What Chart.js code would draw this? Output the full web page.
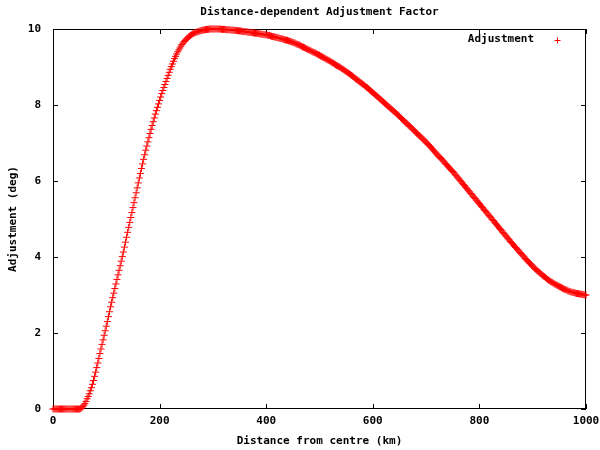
<!DOCTYPE html>
<html>
<head>
<meta charset="utf-8">
<title>Distance-dependent Adjustment Factor</title>
<script src="https://cdn.jsdelivr.net/npm/chart.js@4.4.0/dist/chart.umd.min.js"></script>
<style>
    body { margin: 0; background: #fff; }
    #wrap { width: 600px; height: 450px; }
</style>
</head>
<body>
<div id="wrap"><canvas id="adjChart" width="600" height="450"></canvas></div>
<script>
// Distance from centre (km), sampled every 2 km
const distanceKm = [
    0, 2, 4, 6, 8, 10, 12, 14, 16, 18,
    20, 22, 24, 26, 28, 30, 32, 34, 36, 38,
    40, 42, 44, 46, 48, 50, 52, 54, 56, 58,
    60, 62, 64, 66, 68, 70, 72, 74, 76, 78,
    80, 82, 84, 86, 88, 90, 92, 94, 96, 98,
    100, 102, 104, 106, 108, 110, 112, 114, 116, 118,
    120, 122, 124, 126, 128, 130, 132, 134, 136, 138,
    140, 142, 144, 146, 148, 150, 152, 154, 156, 158,
    160, 162, 164, 166, 168, 170, 172, 174, 176, 178,
    180, 182, 184, 186, 188, 190, 192, 194, 196, 198,
    200, 202, 204, 206, 208, 210, 212, 214, 216, 218,
    220, 222, 224, 226, 228, 230, 232, 234, 236, 238,
    240, 242, 244, 246, 248, 250, 252, 254, 256, 258,
    260, 262, 264, 266, 268, 270, 272, 274, 276, 278,
    280, 282, 284, 286, 288, 290, 292, 294, 296, 298,
    300, 302, 304, 306, 308, 310, 312, 314, 316, 318,
    320, 322, 324, 326, 328, 330, 332, 334, 336, 338,
    340, 342, 344, 346, 348, 350, 352, 354, 356, 358,
    360, 362, 364, 366, 368, 370, 372, 374, 376, 378,
    380, 382, 384, 386, 388, 390, 392, 394, 396, 398,
    400, 402, 404, 406, 408, 410, 412, 414, 416, 418,
    420, 422, 424, 426, 428, 430, 432, 434, 436, 438,
    440, 442, 444, 446, 448, 450, 452, 454, 456, 458,
    460, 462, 464, 466, 468, 470, 472, 474, 476, 478,
    480, 482, 484, 486, 488, 490, 492, 494, 496, 498,
    500, 502, 504, 506, 508, 510, 512, 514, 516, 518,
    520, 522, 524, 526, 528, 530, 532, 534, 536, 538,
    540, 542, 544, 546, 548, 550, 552, 554, 556, 558,
    560, 562, 564, 566, 568, 570, 572, 574, 576, 578,
    580, 582, 584, 586, 588, 590, 592, 594, 596, 598,
    600, 602, 604, 606, 608, 610, 612, 614, 616, 618,
    620, 622, 624, 626, 628, 630, 632, 634, 636, 638,
    640, 642, 644, 646, 648, 650, 652, 654, 656, 658,
    660, 662, 664, 666, 668, 670, 672, 674, 676, 678,
    680, 682, 684, 686, 688, 690, 692, 694, 696, 698,
    700, 702, 704, 706, 708, 710, 712, 714, 716, 718,
    720, 722, 724, 726, 728, 730, 732, 734, 736, 738,
    740, 742, 744, 746, 748, 750, 752, 754, 756, 758,
    760, 762, 764, 766, 768, 770, 772, 774, 776, 778,
    780, 782, 784, 786, 788, 790, 792, 794, 796, 798,
    800, 802, 804, 806, 808, 810, 812, 814, 816, 818,
    820, 822, 824, 826, 828, 830, 832, 834, 836, 838,
    840, 842, 844, 846, 848, 850, 852, 854, 856, 858,
    860, 862, 864, 866, 868, 870, 872, 874, 876, 878,
    880, 882, 884, 886, 888, 890, 892, 894, 896, 898,
    900, 902, 904, 906, 908, 910, 912, 914, 916, 918,
    920, 922, 924, 926, 928, 930, 932, 934, 936, 938,
    940, 942, 944, 946, 948, 950, 952, 954, 956, 958,
    960, 962, 964, 966, 968, 970, 972, 974, 976, 978,
    980, 982, 984, 986, 988, 990, 992, 994, 996, 998,
    1000
];

// Adjustment (deg), one value per distance above
const adjustmentDeg = [
    0, 0, 0, 0, 0, 0, 0, 0, 0, 0,
    0, 0, 0, 0, 0, 0, 0, 0, 0, 0,
    0, 0, 0, 0, 0, 0, 0.01, 0.03, 0.06, 0.1,
    0.14, 0.2, 0.27, 0.33, 0.4, 0.48, 0.56, 0.65, 0.75, 0.86,
    0.97, 1.09, 1.21, 1.33, 1.46, 1.58, 1.7, 1.82, 1.94, 2.06,
    2.18, 2.3, 2.43, 2.56, 2.69, 2.81, 2.93, 3.05, 3.17, 3.29,
    3.41, 3.53, 3.65, 3.77, 3.89, 4.01, 4.13, 4.26, 4.39, 4.52,
    4.65, 4.78, 4.91, 5.04, 5.17, 5.3, 5.43, 5.56, 5.69, 5.82,
    5.95, 6.08, 6.2, 6.33, 6.45, 6.57, 6.69, 6.81, 6.92, 7.03,
    7.14, 7.25, 7.36, 7.46, 7.56, 7.66, 7.76, 7.85, 7.94, 8.03,
    8.12, 8.21, 8.3, 8.38, 8.46, 8.54, 8.62, 8.7, 8.78, 8.86,
    8.94, 9.01, 9.08, 9.15, 9.22, 9.28, 9.34, 9.4, 9.45, 9.5,
    9.55, 9.59, 9.63, 9.67, 9.7, 9.73, 9.76, 9.79, 9.81, 9.83,
    9.85, 9.87, 9.89, 9.9, 9.91, 9.92, 9.93, 9.94, 9.95, 9.96,
    9.97, 9.97, 9.98, 9.98, 9.99, 9.99, 9.99, 10, 10, 10,
    10, 10, 10, 10, 10, 10, 10, 10, 9.99, 9.99,
    9.99, 9.99, 9.99, 9.98, 9.98, 9.98, 9.98, 9.97, 9.97, 9.97,
    9.97, 9.96, 9.96, 9.96, 9.95, 9.95, 9.95, 9.94, 9.94, 9.93,
    9.93, 9.93, 9.92, 9.92, 9.91, 9.91, 9.91, 9.9, 9.9, 9.89,
    9.89, 9.89, 9.88, 9.88, 9.87, 9.87, 9.86, 9.86, 9.85, 9.85,
    9.85, 9.84, 9.83, 9.83, 9.82, 9.81, 9.8, 9.8, 9.79, 9.78,
    9.78, 9.77, 9.76, 9.75, 9.75, 9.74, 9.73, 9.72, 9.71, 9.71,
    9.7, 9.69, 9.68, 9.67, 9.66, 9.65, 9.64, 9.63, 9.61, 9.6,
    9.59, 9.58, 9.56, 9.55, 9.53, 9.52, 9.51, 9.49, 9.48, 9.46,
    9.45, 9.44, 9.42, 9.41, 9.39, 9.38, 9.37, 9.35, 9.34, 9.32,
    9.31, 9.29, 9.28, 9.26, 9.25, 9.23, 9.21, 9.2, 9.18, 9.17,
    9.15, 9.13, 9.11, 9.1, 9.08, 9.06, 9.04, 9.03, 9.01, 9.0,
    8.98, 8.96, 8.94, 8.92, 8.9, 8.88, 8.86, 8.84, 8.82, 8.8,
    8.78, 8.76, 8.74, 8.71, 8.69, 8.67, 8.65, 8.63, 8.6, 8.58,
    8.56, 8.54, 8.52, 8.49, 8.47, 8.45, 8.43, 8.4, 8.38, 8.35,
    8.33, 8.3, 8.28, 8.25, 8.23, 8.2, 8.18, 8.15, 8.13, 8.1,
    8.08, 8.05, 8.03, 8.0, 7.98, 7.95, 7.93, 7.9, 7.88, 7.85,
    7.83, 7.8, 7.78, 7.75, 7.73, 7.7, 7.67, 7.64, 7.62, 7.59,
    7.56, 7.53, 7.51, 7.48, 7.46, 7.43, 7.4, 7.37, 7.35, 7.32,
    7.29, 7.26, 7.24, 7.21, 7.19, 7.16, 7.13, 7.1, 7.08, 7.05,
    7.02, 6.99, 6.96, 6.93, 6.9, 6.87, 6.84, 6.81, 6.77, 6.74,
    6.71, 6.68, 6.65, 6.62, 6.59, 6.56, 6.53, 6.5, 6.46, 6.43,
    6.4, 6.37, 6.34, 6.31, 6.28, 6.25, 6.22, 6.18, 6.15, 6.11,
    6.08, 6.05, 6.01, 5.98, 5.94, 5.91, 5.88, 5.84, 5.81, 5.77,
    5.74, 5.71, 5.67, 5.64, 5.6, 5.57, 5.54, 5.5, 5.47, 5.43,
    5.4, 5.37, 5.33, 5.3, 5.26, 5.23, 5.2, 5.16, 5.13, 5.09,
    5.06, 5.03, 4.99, 4.96, 4.92, 4.89, 4.86, 4.82, 4.79, 4.75,
    4.72, 4.69, 4.65, 4.62, 4.58, 4.55, 4.52, 4.48, 4.45, 4.41,
    4.38, 4.35, 4.32, 4.28, 4.25, 4.22, 4.19, 4.16, 4.12, 4.09,
    4.06, 4.03, 4.0, 3.96, 3.93, 3.9, 3.87, 3.84, 3.82, 3.79,
    3.76, 3.73, 3.7, 3.67, 3.65, 3.62, 3.6, 3.57, 3.55, 3.52,
    3.5, 3.48, 3.46, 3.43, 3.41, 3.39, 3.37, 3.35, 3.34, 3.32,
    3.3, 3.28, 3.27, 3.25, 3.24, 3.22, 3.21, 3.19, 3.18, 3.16,
    3.15, 3.14, 3.13, 3.11, 3.1, 3.09, 3.08, 3.07, 3.07, 3.06,
    3.05, 3.04, 3.04, 3.03, 3.03, 3.02, 3.02, 3.01, 3.01, 3.0,
    3.0
];

const xTicks = [0, 200, 400, 600, 800, 1000];
const yTicks = [0, 2, 4, 6, 8, 10];

const seriesName = 'Adjustment';
const seriesColor = '#ff0000';
const monoFont = "'DejaVu Sans Mono', 'Liberation Mono', monospace";

// gnuplot-style frame: full border, inward ticks on all four sides, legend inside
const gnuplotFrame = {
    id: 'gnuplotFrame',
    beforeDatasetsDraw(chart) {
        const { ctx, chartArea: a, scales: { x, y } } = chart;
        const tickLen = 5;
        ctx.save();
        ctx.strokeStyle = '#000';
        ctx.lineWidth = 1;
        ctx.strokeRect(a.left + 0.5, a.top + 0.5, a.right - a.left - 1, a.bottom - a.top - 1);
        ctx.beginPath();
        xTicks.forEach(v => {
            const px = Math.round(x.getPixelForValue(v)) + 0.5;
            ctx.moveTo(px, a.bottom);
            ctx.lineTo(px, a.bottom - tickLen);
            ctx.moveTo(px, a.top);
            ctx.lineTo(px, a.top + tickLen);
        });
        yTicks.forEach(v => {
            const py = Math.round(y.getPixelForValue(v)) + 0.5;
            ctx.moveTo(a.left, py);
            ctx.lineTo(a.left + tickLen, py);
            ctx.moveTo(a.right, py);
            ctx.lineTo(a.right - tickLen, py);
        });
        ctx.stroke();
        ctx.restore();
    },
    afterDatasetsDraw(chart) {
        const { ctx, chartArea: a } = chart;
        const ly = a.top + 10.5;
        ctx.save();
        ctx.font = 'bold 11px ' + monoFont;
        ctx.fillStyle = '#000';
        ctx.textAlign = 'right';
        ctx.textBaseline = 'middle';
        ctx.fillText(seriesName, a.right - 52, ly);
        // legend marker
        const mx = Math.round(a.right - 29) + 0.5;
        const my = Math.round(ly) + 0.5;
        ctx.strokeStyle = seriesColor;
        ctx.lineWidth = 1;
        ctx.beginPath();
        ctx.moveTo(mx - 3, my);
        ctx.lineTo(mx + 3, my);
        ctx.moveTo(mx, my - 3);
        ctx.lineTo(mx, my + 3);
        ctx.stroke();
        ctx.restore();
    }
};

document.addEventListener('DOMContentLoaded', function() {
    const ctx = document.getElementById('adjChart').getContext('2d');

    const points = distanceKm.map((d, i) => ({ x: d, y: adjustmentDeg[i] }));

    new Chart(ctx, {
        type: 'scatter',
        data: {
            datasets: [{
                label: seriesName,
                data: points,
                pointStyle: 'cross',
                pointRadius: 3.5,
                pointHoverRadius: 3.5,
                borderColor: seriesColor,
                backgroundColor: seriesColor,
                pointBorderWidth: 1,
                showLine: false,
                clip: false
            }]
        },
        options: {
            responsive: false,
            animation: false,
            layout: {
                padding: { left: 0, right: 14, top: 0, bottom: 0 }
            },
            plugins: {
                legend: { display: false },
                tooltip: { enabled: false },
                title: {
                    display: true,
                    fullSize: false,
                    text: 'Distance-dependent Adjustment Factor',
                    color: '#000',
                    font: { family: monoFont, size: 11, weight: 'bold', lineHeight: 1 },
                    padding: { top: 7, bottom: 11 }
                }
            },
            scales: {
                x: {
                    type: 'linear',
                    min: 0,
                    max: 1000,
                    grid: { display: false, drawTicks: false },
                    border: { display: false },
                    afterBuildTicks: s => { s.ticks = xTicks.map(v => ({ value: v })); },
                    afterFit: s => {
                        s.height = 41;
                        s.paddingLeft = 0;
                        s.paddingRight = 0;
                    },
                    ticks: {
                        color: '#000',
                        padding: 6.5,
                        maxRotation: 0,
                        font: { family: monoFont, size: 11, weight: 'bold', lineHeight: 1 },
                        callback: v => String(v)
                    },
                    title: {
                        display: true,
                        text: 'Distance from centre (km)',
                        color: '#000',
                        font: { family: monoFont, size: 11, weight: 'bold', lineHeight: 1 },
                        padding: { top: 0, bottom: 3.5 }
                    }
                },
                y: {
                    min: 0,
                    max: 10,
                    grid: { display: false, drawTicks: false },
                    border: { display: false },
                    afterBuildTicks: s => { s.ticks = yTicks.map(v => ({ value: v })); },
                    afterFit: s => { s.width = 53; },
                    ticks: {
                        color: '#000',
                        padding: 12,
                        font: { family: monoFont, size: 11, weight: 'bold', lineHeight: 1 },
                        callback: v => String(v)
                    },
                    title: {
                        display: true,
                        text: 'Adjustment (deg)',
                        color: '#000',
                        font: { family: monoFont, size: 11, weight: 'bold', lineHeight: 1 },
                        padding: { top: 7.5, bottom: 0 }
                    }
                }
            }
        },
        plugins: [gnuplotFrame]
    });
});
</script>
</body>
</html>
